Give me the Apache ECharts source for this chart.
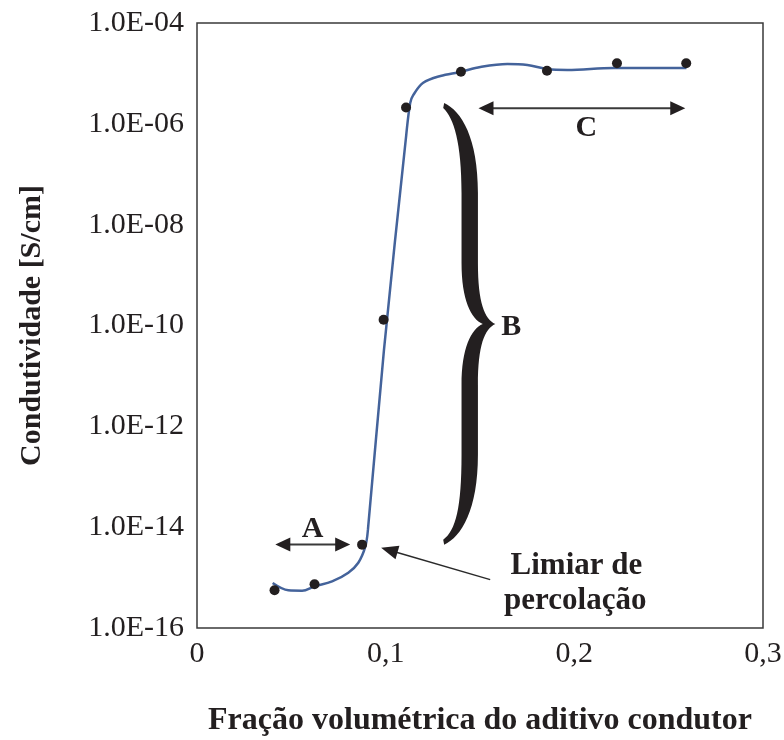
<!DOCTYPE html>
<html>
<head>
<meta charset="utf-8">
<script src="https://cdn.jsdelivr.net/npm/echarts@6/dist/echarts.min.js"></script>
<style>
  html, body { margin: 0; padding: 0; background: #fff; }
  #chart { width: 784px; height: 740px; }
</style>
</head>
<body>
<div id="chart"></div>
<script>
// Measured points: volume fraction of the conductive additive vs conductivity (S/cm)
const fraction = [0.0411, 0.0623, 0.0875, 0.0989, 0.1108, 0.1399, 0.1855, 0.2226, 0.2593];
const conductivity = [5.6e-16, 7.4e-16, 4.5e-15, 1.3e-10, 2.1e-6, 1.08e-5, 1.13e-5, 1.59e-5, 1.59e-5];

// Trend curve drawn through the measurements
const curveX = [0.0401, 0.0484, 0.0557, 0.0623, 0.0716, 0.0802, 0.0855, 0.0892, 0.0906,
                0.0991, 0.1109, 0.1130, 0.1146, 0.1199, 0.1290, 0.1396, 0.1502, 0.1645,
                0.1751, 0.1857, 0.1963, 0.2207, 0.2594];
const curveY = [7.8e-16, 5.6e-16, 5.5e-16, 6.7e-16, 8.4e-16, 1.25e-15, 1.97e-15, 4.1e-15, 8.9e-15,
                3.3e-11, 6.0e-7, 2.6e-6, 3.7e-6, 6.5e-6, 8.9e-6, 1.07e-5, 1.34e-5, 1.54e-5,
                1.47e-5, 1.22e-5, 1.17e-5, 1.28e-5, 1.28e-5];

const xTicks = [0, 0.1, 0.2, 0.3];
const yExponents = [-16, -14, -12, -10, -8, -6, -4];

const xTitle = 'Fração volumétrica do aditivo condutor';
const yTitle = 'Condutividade [S/cm]';

const ink = '#231f20';
const serif = '"Liberation Serif", "Times New Roman", serif';

// Right curly brace outline, in a 53 x 442 box (tip at the middle of the right side)
const bracePath = 'M 0 0 C 18 8 35 35 35 90 L 35 160 C 35 200 42 216 53 221 ' +
  'C 42 226 35 242 35 282 L 35 352 C 35 407 18 434 0 442 L -1 437 ' +
  'C 12 428 18 405 18 352 L 18 282 C 18 245 28 226 40 221 ' +
  'C 28 216 18 197 18 160 L 18 90 C 18 40 10 15 -1 5 Z';
// Brace anchor: [x of the ends, log10 top, log10 bottom, x of the tip]
const braceAnchor = [0.1305, -5.586, -14.35, 0.1581];

const chart = echarts.init(document.getElementById('chart'), null, { renderer: 'canvas' });

function fmtExp(v) {
  const e = Math.round(Math.log10(v));
  return '1.0E' + (e < 0 ? '-' : '+') + String(Math.abs(e)).padStart(2, '0');
}

chart.setOption({
  animation: false,
  backgroundColor: '#fff',
  grid: {
    left: 197, top: 23, right: 21, bottom: 112,
    outerBoundsMode: 'none', containLabel: false,
    show: true, borderColor: '#3a3a3a', borderWidth: 1.5, backgroundColor: 'transparent'
  },
  xAxis: {
    type: 'value',
    min: xTicks[0], max: xTicks[xTicks.length - 1], interval: 0.1,
    axisLine: { show: false }, axisTick: { show: false }, splitLine: { show: false },
    axisLabel: {
      color: ink, fontFamily: serif, fontSize: 30, margin: 11,
      formatter: v => String(Math.round(v * 10) / 10).replace('.', ',')
    },
    name: xTitle, nameLocation: 'middle', nameGap: 77,
    nameTextStyle: { color: ink, fontFamily: serif, fontSize: 32, fontWeight: 'bold' }
  },
  yAxis: {
    type: 'log', logBase: 10,
    min: Math.pow(10, yExponents[0]), max: Math.pow(10, yExponents[yExponents.length - 1]),
    interval: 2,
    axisLine: { show: false }, axisTick: { show: false }, splitLine: { show: false },
    axisLabel: {
      color: ink, fontFamily: serif, fontSize: 30, margin: 13,
      formatter: fmtExp
    },
    name: yTitle, nameLocation: 'middle', nameGap: 150, nameRotate: 90,
    nameTextStyle: { color: ink, fontFamily: serif, fontSize: 30, fontWeight: 'bold' }
  },
  series: [
    {
      type: 'line',
      data: curveX.map((x, i) => [x, curveY[i]]),
      smooth: 0.35,
      showSymbol: false,
      lineStyle: { color: '#44639b', width: 2.5 },
      z: 2
    },
    {
      type: 'scatter',
      data: fraction.map((x, i) => [x, conductivity[i]]),
      symbol: 'circle', symbolSize: 10,
      itemStyle: { color: ink, opacity: 1 },
      z: 3
    },
    {
      type: 'custom',
      silent: true,
      data: [braceAnchor],
      renderItem: function (params, api) {
        const top = api.coord([api.value(0), Math.pow(10, api.value(1))]);
        const bot = api.coord([api.value(0), Math.pow(10, api.value(2))]);
        const tip = api.coord([api.value(3), Math.pow(10, api.value(1))]);
        return {
          type: 'path',
          shape: { pathData: bracePath, x: top[0], y: top[1],
                   width: tip[0] - top[0], height: bot[1] - top[1], layout: 'cover' },
          style: { fill: ink }
        };
      },
      z: 1
    }
  ]
});

// Annotations anchored in data space (x fraction, log10 conductivity)
function px(x, lg) {
  return chart.convertToPixel({ gridIndex: 0 }, [x, Math.pow(10, lg)]);
}

function hArrow(x1, x2, lg) {
  const a = px(x1, lg), b = px(x2, lg);
  const y = a[1], L = 15, W = 7;
  return [
    { type: 'line', shape: { x1: a[0] + L - 2, y1: y, x2: b[0] - L + 2, y2: y },
      style: { stroke: '#3a3a3a', lineWidth: 2 } },
    { type: 'polygon', shape: { points: [[a[0], y], [a[0] + L, y - W], [a[0] + L, y + W]] },
      style: { fill: ink } },
    { type: 'polygon', shape: { points: [[b[0], y], [b[0] - L, y - W], [b[0] - L, y + W]] },
      style: { fill: ink } }
  ];
}

function pointer(fromX, fromLg, toX, toLg) {
  const a = px(fromX, fromLg), b = px(toX, toLg);
  const dx = b[0] - a[0], dy = b[1] - a[1];
  const len = Math.hypot(dx, dy), ux = dx / len, uy = dy / len;
  const L = 17, W = 7;
  const bx = b[0] - ux * L, by = b[1] - uy * L;
  return [
    { type: 'line', shape: { x1: a[0], y1: a[1], x2: bx + ux * 2, y2: by + uy * 2 },
      style: { stroke: '#2a2a2a', lineWidth: 1.5 } },
    { type: 'polygon',
      shape: { points: [[b[0], b[1]], [bx - uy * W, by + ux * W], [bx + uy * W, by - ux * W]] },
      style: { fill: ink } }
  ];
}

function label(text, x, lg, size) {
  const p = px(x, lg);
  return { type: 'text', x: p[0], y: p[1],
    style: { text: text, font: 'bold ' + (size || 30) + 'px ' + serif, fill: ink,
             textAlign: 'center', textVerticalAlign: 'middle' } };
}

const els = [].concat(
  hArrow(0.0415, 0.0812, -14.343),
  hArrow(0.1492, 0.2588, -5.691),
  pointer(0.1554, -15.04, 0.0976, -14.41),
  [
    label('A', 0.0612, -14.05),
    label('B', 0.1666, -10.03),
    label('C', 0.2064, -6.08),
    label('Limiar de', 0.2011, -14.77, 31),
    label('percolação', 0.2005, -15.46, 31)
  ]
);

chart.setOption({ graphic: { elements: els } });
</script>
</body>
</html>
